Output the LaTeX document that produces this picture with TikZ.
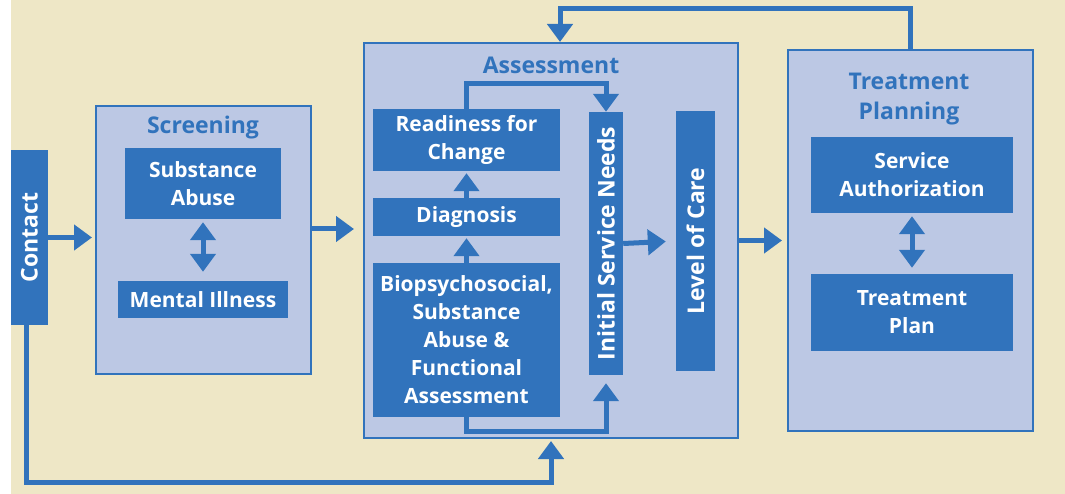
\documentclass[tikz,border=0pt]{standalone}
\usepackage{fontspec}
\setmainfont{Open Sans}
\usepackage{graphicx}
\usepackage{tikz}
\usetikzlibrary{positioning,arrows.meta,calc}
\definecolor{myblue}{RGB}{49,115,188}
\definecolor{mypanel}{RGB}{188,200,228}
\definecolor{mybeige}{RGB}{238,231,198}

\begin{document}
\begin{tikzpicture}[
          x=1pt,y=-1pt,
          box/.style={fill=myblue,text=white,align=center,inner sep=0pt,
            font=\bfseries\fontsize{21}{28}\selectfont},
          vbox/.style={box,font=\bfseries\fontsize{23}{28}\selectfont},
          panel/.style={draw=myblue,line width=2pt,fill=mypanel,inner sep=0pt},
          ttl/.style={text=myblue,align=center,inner sep=0pt,
            font=\bfseries\fontsize{23}{30}\selectfont},
          tip/.style={-{Triangle[width=25pt,length=18pt]}},
          arr/.style={draw=myblue,line width=5pt,tip},
          dbl/.style={draw=myblue,line width=5pt,
            {Triangle[width=25pt,length=18pt]}-{Triangle[width=25pt,length=18pt]}}
          ]
          % background
          \useasboundingbox (0,0) rectangle (1065,494);
          \fill[mybeige] (11,0) rectangle (1065,494);
          % the three stages
          \node[panel,minimum width=215,minimum height=268] (screen) at (203.5,240) {};
          \node[panel,minimum width=374,minimum height=395] (assess) at (551,240.5) {};
          \node[panel,minimum width=245,minimum height=381] (treat) at (910.5,240.5) {};
          \node[ttl] (screenttl) at (203,128) {Screening};
          \node[ttl] (assessttl) at (551,65) {Assessment};
          \node[ttl] (treatttl) at (909,99) {Treatment\\Planning};
          % contact
          \node[vbox,minimum width=37,minimum height=175] (contact) at (29.5,237.5)
            {\rotatebox{90}{Contact}};
          % screening
          \node[box,minimum width=156,minimum height=71] (subab) at (203,183.5) {Substance\\Abuse};
          \node[box,minimum width=170,minimum height=37] (mental) at (203,299.5) {Mental Illness};
          % assessment
          \node[box,minimum width=187,minimum height=62] (ready) at (466.5,140) {Readiness for\\Change};
          \node[box,minimum width=187,minimum height=38] (diag) at (466.5,217) {Diagnosis};
          \node[box,minimum width=187,minimum height=154] (bio) at (466.5,340)
            {Biopsychosocial,\\Substance\\Abuse \&\\Functional\\Assessment};
          \node[vbox,minimum width=34,minimum height=263] (isn) at (606,243.5)
            {\rotatebox{90}{Initial Service Needs}};
          \node[vbox,minimum width=39,minimum height=260] (loc) at (695.5,241)
            {\rotatebox{90}{Level of Care}};
          % treatment planning
          \node[box,minimum width=202,minimum height=76] (svc) at (912,175) {Service\\Authorization};
          \node[box,minimum width=202,minimum height=77] (tplan) at (912,312.5) {Treatment\\Plan};
          % the arrows
          \draw[arr,shorten >=3pt] (contact.east) -- (contact.east -| screen.west);
          \draw[arr,shorten >=9pt] ([yshift=11]screen.east) -- ([yshift=11]screen.east -| assess.west);
          \draw[arr,shorten >=5pt] (assess.east) -- (treat.west);
          \draw[dbl,shorten <=3pt,shorten >=9pt] (subab) -- (mental);
          \draw[dbl,shorten <=3pt,shorten >=6pt] (svc) -- (tplan);
          \draw[arr,shorten >=2pt] (bio) -- (diag);
          \draw[arr,shorten >=2pt] (diag) -- (ready);
          \draw[arr,shorten >=10pt] (isn.east) -- (loc.west);
          \draw[arr] (ready.north) -- ++(0,-25) -| (isn.north);
          \draw[arr,shorten >=8pt] (bio.south) -- ++(0,14) -| (isn.south);
          \draw[arr] (treat.north) -- ++(0,-40) -| ([xshift=9]assess.north);
          \draw[arr,shorten >=2pt] ([xshift=-3]contact.south) -- ++(0,157) -| (assess.south);
\end{tikzpicture}
\end{document}
